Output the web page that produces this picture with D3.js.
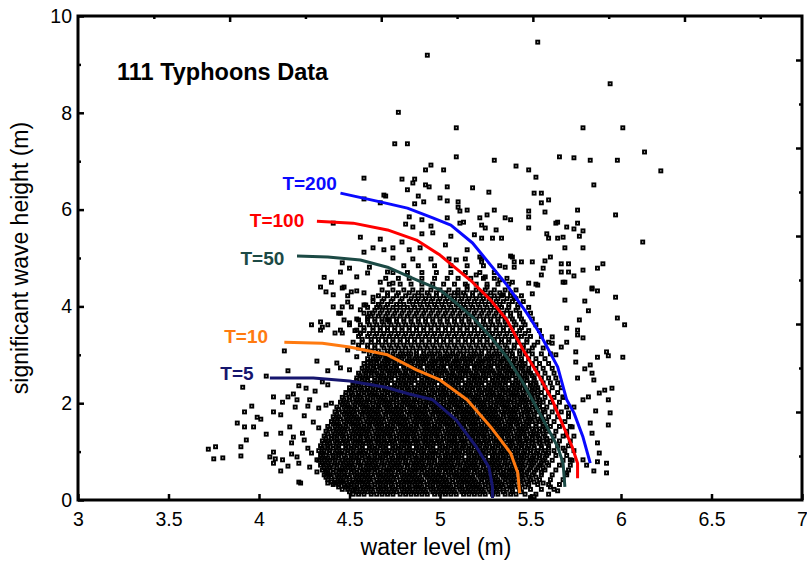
<!DOCTYPE html>
<html>
<head>
<meta charset="utf-8">
<script src="https://cdn.jsdelivr.net/npm/d3@7"></script>
<style>
body { margin:0; background:#fff; }
text { font-family: "Liberation Sans", Arial, sans-serif; fill:#000; }
</style>
</head>
<body>
<script>
const width = 807, height = 562
const margin = {left:78, right:5, top:16, bottom:62}

const xTicks = [3,3.5,4,4.5,5,5.5,6,6.5,7]
const yTicks = [0,2,4,6,8,10]
const yMinor = [1,3,5,7,9]

// scattered points read one by one (x = water level, y = wave height)
const sparsePts = [
[4.93,9.19],[5.54,9.46],[5.94,8.60],[4.77,8.01],[5.09,7.69],[5.79,7.69],[6.01,7.69],[6.13,7.19],[6.22,6.80],[6.12,5.33],[5.97,5.89],
[5.66,7.09],[5.74,7.07],[5.83,7.02],[5.98,7.02],[5.42,6.90],[5.49,6.82],[5.53,6.67],[5.85,6.51],[5.52,6.34],[5.56,6.34],[5.60,6.20],[5.56,6.14],[5.49,5.97],[5.58,5.95],[5.76,5.99],[5.49,5.85],[5.36,5.83],[5.39,5.79],[5.64,5.72],[5.65,5.74],[5.76,5.72],[5.70,5.64],[5.74,5.60],[5.79,5.56],[5.49,5.62],[5.77,5.45],[5.59,5.50],[5.60,5.41],[5.65,5.41],[5.68,5.43],[5.34,5.41],[5.69,5.21],[5.79,5.21],[5.39,5.04],[5.41,4.92],[5.45,4.92],[5.51,4.92],[5.61,5.02],[5.58,4.94],[5.67,4.88],[5.71,4.88],[5.67,4.71],[5.71,4.71],[5.74,4.63],[5.79,4.75],[5.87,4.79],[5.90,4.88],[5.57,4.79],[5.56,4.65],[5.53,4.46],[5.49,4.48],[5.51,4.26],[5.69,4.50],[5.84,4.36],[5.87,4.32],[5.97,4.19],[5.80,4.11],[5.69,4.13],
[4.75,7.36],[4.82,7.36],[5.09,7.09],[5.30,7.02],[4.95,6.92],[5.02,6.82],[4.92,6.82],[4.58,6.65],[4.79,6.63],[4.86,6.63],[4.85,6.55],[4.92,6.51],[4.94,6.47],[5.04,6.47],[5.18,6.45],[4.82,6.41],[5.27,6.36],[4.88,6.28],[4.70,6.28],[5.00,6.24],[4.58,6.22],[4.86,6.12],[4.91,6.16],[5.04,6.18],[5.10,6.16],[4.67,6.14],[5.10,6.05],[5.11,5.97],[5.15,5.99],[5.30,5.99],[4.83,5.85],[4.90,5.79],[5.04,5.83],[5.22,5.83],[5.26,5.89],[4.81,5.70],[4.85,5.64],[4.95,5.66],[5.11,5.72],[5.13,5.74],[5.23,5.68],[5.25,5.62],[5.31,5.58],[4.56,5.43],[4.67,5.39],[4.79,5.33],[4.90,5.50],[4.96,5.52],[5.06,5.45],[5.19,5.48],[5.23,5.41],[5.29,5.41],[5.03,5.27],[4.58,5.12],[4.63,5.21],[4.69,5.17],[4.74,5.21],[4.83,5.17],[4.89,5.21],[5.15,5.17],[5.22,5.02],[5.40,5.02],[5.41,4.81],[5.36,4.81],[5.23,4.92],[5.09,4.96],[4.74,5.00],[4.61,4.81],[4.50,4.79],[4.45,4.71],[5.20,4.65],[5.25,4.61],[5.33,4.55],[5.40,4.50],[5.26,4.40],[5.15,4.42],[5.10,4.28],[5.35,4.24],[5.41,4.19],[4.46,4.38],[4.51,4.30],[4.41,4.24],[4.58,4.28],[4.59,4.03],[4.41,5.72],[4.69,6.30],[4.46,4.90],[4.36,4.60],[4.40,4.50],
[4.34,4.40],[4.37,4.30],[4.47,4.40],[4.49,4.22],[4.54,4.32],[4.41,3.99],[4.46,3.99],[4.44,3.86],[4.34,3.68],[4.38,3.62],[4.45,3.51],[4.50,3.66],[4.54,3.51],[4.60,3.78],[4.56,3.93],[4.49,4.09],[4.63,4.19],[4.54,4.61],[4.60,4.69],[4.67,4.50],[4.71,4.71],[4.74,4.48],
[3.91,2.33],[4.14,3.08],[4.16,2.67],[4.04,2.56],[4.29,3.62],[4.34,3.51],[4.35,3.57],[4.42,3.45],[4.32,2.87],[4.43,2.83],[4.38,2.67],[4.38,2.38],[4.35,2.44],[4.22,2.36],[4.26,2.31],[4.31,2.25],[4.08,2.13],[4.16,2.13],[4.13,2.02],[4.19,2.19],[4.20,1.92],[4.21,2.07],[4.27,1.94],[4.28,2.07],[4.33,1.90],[4.37,1.96],[4.40,2.00],[3.96,1.94],[3.92,1.82],[4.08,1.82],[4.12,1.76],[4.01,1.67],[3.99,1.71],[3.88,1.59],[3.92,1.51],[3.97,1.51],[4.04,1.36],[4.12,1.38],[4.17,1.51],[4.19,1.30],[4.18,1.18],[3.93,1.24],[3.90,1.10],[3.72,1.05],[3.76,1.10],[3.75,0.85],[3.80,0.87],[3.90,0.91],[4.06,0.89],[4.08,0.99],[4.09,0.85],[4.12,0.60],[4.13,0.83],[4.16,0.70],[4.18,0.95],[4.22,0.76],[4.22,0.37],[4.23,0.35],[4.32,0.58],[4.38,0.56],[4.38,0.35],[4.42,0.35],[4.45,0.37],[4.49,0.31],[4.52,0.21],[4.24,1.38],[4.27,1.07],[4.25,1.24],[4.30,1.61],[4.25,1.74],[4.33,1.49],[4.29,0.97],[4.32,0.83],[4.28,0.68],[4.21,0.89],[4.08,0.76],
[4.51,3.99],[4.58,4.03],[4.45,3.86],[4.47,3.72],[4.50,3.62],[4.55,3.72],[4.61,3.86],[4.67,3.99],[4.71,3.72],[4.56,3.45],[4.46,3.45],[4.49,3.10],[4.54,2.96],[4.60,2.83],[4.65,2.75],[4.71,2.93],[4.45,2.73],[4.50,2.69],
[5.54,4.44],[5.68,4.50],[5.84,4.38],[5.82,3.91],[5.98,3.76],[6.02,3.62],[5.77,3.72],[5.70,3.55],[5.76,3.51],[5.76,3.41],[5.79,3.35],[5.62,3.37],[5.62,3.24],[5.75,3.06],[5.92,3.06],[5.93,2.98],[6.01,2.95],[5.87,2.95],[5.75,2.85],[5.80,2.71],[5.83,2.79],[5.84,2.62],[5.85,2.48],[5.76,2.52],[5.95,2.31],[5.88,2.21],[5.91,2.27],[5.93,2.07],[5.82,2.13],[5.79,2.07],[5.86,1.84],[5.94,1.80],[5.83,1.59],[5.84,1.38],[5.93,1.55],[5.87,1.18],[5.88,0.97],[5.92,0.76],[5.87,0.79],[5.85,0.60],[5.92,0.56],[5.81,0.72],[5.79,0.83],[5.72,0.83],[5.70,0.56],[5.65,0.19],[5.61,0.27],[5.57,0.35],[5.68,1.07],[5.70,1.34],[5.73,1.51],[5.71,1.80],[5.74,1.92],[5.68,2.13],[5.64,3.00],[5.67,3.16],[5.70,3.26],[5.52,0.07],[5.50,0.05]
]

// the crowded middle of the cloud, read row by row: [wave height, water levels]
const coreRows = [
[0.12,[4.52,4.55,4.58,4.62,4.65,4.68,4.71,4.74,4.78,4.81,4.84,4.87,4.9,4.93,4.97,5,5.03,5.06,5.09,5.13,5.16,5.19,5.22,5.25,5.29,5.32,5.36,5.39,5.42,5.47,5.53,5.6]],
[0.22,[4.46,4.49,4.53,4.56,4.59,4.62,4.66,4.69,4.72,4.75,4.79,4.82,4.85,4.88,4.91,4.95,4.98,5.01,5.04,5.07,5.11,5.14,5.17,5.2,5.23,5.27,5.3,5.33,5.37,5.4,5.44,5.5,5.56,5.63]],
[0.32,[4.41,4.44,4.47,4.51,4.54,4.57,4.6,4.64,4.67,4.7,4.73,4.77,4.8,4.83,4.86,4.89,4.93,4.96,4.99,5.02,5.05,5.09,5.12,5.15,5.18,5.21,5.25,5.28,5.31,5.34,5.38,5.41,5.45,5.49,5.54,5.6,5.66]],
[0.42,[4.38,4.42,4.45,4.48,4.52,4.55,4.58,4.61,4.65,4.68,4.71,4.74,4.78,4.81,4.84,4.87,4.9,4.94,4.97,5,5.03,5.07,5.1,5.13,5.16,5.19,5.23,5.26,5.29,5.32,5.36,5.39,5.42,5.46,5.5,5.55,5.61,5.68]],
[0.52,[4.36,4.39,4.43,4.46,4.49,4.53,4.56,4.59,4.62,4.66,4.69,4.72,4.75,4.79,4.82,4.85,4.88,4.92,4.95,4.98,5.01,5.05,5.08,5.11,5.14,5.17,5.21,5.24,5.27,5.3,5.34,5.37,5.4,5.44,5.47,5.51,5.56,5.62,5.7]],
[0.62,[4.35,4.38,4.41,4.45,4.48,4.51,4.54,4.58,4.61,4.64,4.67,4.71,4.74,4.77,4.8,4.84,4.87,4.9,4.93,4.96,5,5.03,5.06,5.09,5.13,5.16,5.19,5.22,5.26,5.29,5.32,5.35,5.39,5.42,5.45,5.49,5.53,5.58,5.64,5.71]],
[0.72,[4.34,4.37,4.4,4.43,4.47,4.5,4.53,4.56,4.6,4.63,4.66,4.69,4.73,4.76,4.79,4.82,4.86,4.89,4.92,4.95,4.99,5.02,5.05,5.08,5.11,5.15,5.18,5.21,5.24,5.28,5.31,5.34,5.37,5.41,5.44,5.47,5.51,5.55,5.6,5.66,5.72]],
[0.82,[4.33,4.36,4.39,4.42,4.46,4.49,4.52,4.55,4.59,4.62,4.65,4.68,4.72,4.75,4.78,4.81,4.85,4.88,4.91,4.94,4.97,5.01,5.04,5.07,5.1,5.14,5.17,5.2,5.23,5.27,5.3,5.33,5.36,5.4,5.43,5.46,5.5,5.53,5.57,5.62,5.68,5.73]],
[0.92,[4.34,4.37,4.41,4.44,4.47,4.51,4.54,4.57,4.6,4.64,4.67,4.7,4.73,4.77,4.8,4.83,4.86,4.9,4.93,4.96,4.99,5.03,5.06,5.09,5.12,5.16,5.19,5.22,5.25,5.29,5.32,5.35,5.38,5.42,5.45,5.48,5.52,5.55,5.59,5.64,5.7]],
[1.02,[4.33,4.36,4.39,4.43,4.46,4.49,4.52,4.56,4.59,4.62,4.65,4.69,4.72,4.75,4.78,4.82,4.85,4.88,4.91,4.95,4.98,5.01,5.04,5.08,5.11,5.14,5.17,5.21,5.24,5.27,5.3,5.34,5.37,5.4,5.43,5.47,5.5,5.54,5.58,5.63,5.69,5.74]],
[1.12,[4.34,4.38,4.41,4.44,4.48,4.51,4.54,4.57,4.61,4.64,4.67,4.7,4.74,4.77,4.8,4.83,4.87,4.9,4.93,4.96,5,5.03,5.06,5.09,5.13,5.16,5.19,5.22,5.26,5.29,5.32,5.35,5.39,5.42,5.45,5.49,5.52,5.56,5.6,5.65,5.71]],
[1.22,[4.35,4.38,4.42,4.45,4.48,4.52,4.55,4.58,4.61,4.65,4.68,4.71,4.74,4.78,4.81,4.84,4.87,4.91,4.94,4.97,5,5.04,5.07,5.1,5.13,5.17,5.2,5.23,5.26,5.3,5.33,5.36,5.39,5.43,5.46,5.49,5.53,5.57,5.61,5.66,5.72]],
[1.32,[4.36,4.4,4.43,4.46,4.5,4.53,4.56,4.59,4.63,4.66,4.69,4.72,4.76,4.79,4.82,4.85,4.89,4.92,4.95,4.98,5.02,5.05,5.08,5.11,5.15,5.18,5.21,5.24,5.28,5.31,5.34,5.37,5.41,5.44,5.47,5.51,5.54,5.58,5.63,5.68,5.74]],
[1.42,[4.37,4.41,4.44,4.47,4.51,4.54,4.57,4.6,4.64,4.67,4.7,4.73,4.77,4.8,4.83,4.86,4.9,4.93,4.96,4.99,5.03,5.06,5.09,5.12,5.16,5.19,5.22,5.25,5.29,5.32,5.35,5.38,5.42,5.45,5.48,5.52,5.55,5.59,5.64,5.7]],
[1.52,[4.38,4.42,4.45,4.48,4.52,4.55,4.58,4.61,4.65,4.68,4.71,4.74,4.78,4.81,4.84,4.87,4.91,4.94,4.97,5,5.04,5.07,5.1,5.13,5.17,5.2,5.23,5.26,5.3,5.33,5.36,5.39,5.43,5.46,5.49,5.53,5.57,5.61,5.66,5.72]],
[1.62,[4.4,4.43,4.47,4.5,4.53,4.56,4.6,4.63,4.66,4.69,4.73,4.76,4.79,4.82,4.86,4.89,4.92,4.95,4.99,5.02,5.05,5.08,5.12,5.15,5.18,5.21,5.25,5.28,5.31,5.34,5.38,5.41,5.44,5.48,5.51,5.55,5.59,5.63,5.69]],
[1.72,[4.41,4.44,4.48,4.51,4.54,4.57,4.61,4.64,4.67,4.7,4.74,4.77,4.8,4.83,4.87,4.9,4.93,4.96,5,5.03,5.06,5.09,5.13,5.16,5.19,5.22,5.26,5.29,5.32,5.35,5.39,5.42,5.45,5.49,5.52,5.56,5.6,5.65,5.71]],
[1.82,[4.42,4.46,4.49,4.52,4.56,4.59,4.62,4.65,4.69,4.72,4.75,4.78,4.82,4.85,4.88,4.91,4.95,4.98,5.01,5.04,5.08,5.11,5.14,5.17,5.21,5.24,5.27,5.3,5.34,5.37,5.4,5.43,5.47,5.5,5.54,5.58,5.62,5.67]],
[1.92,[4.43,4.47,4.5,4.53,4.57,4.6,4.63,4.66,4.7,4.73,4.76,4.79,4.83,4.86,4.89,4.92,4.96,4.99,5.02,5.05,5.09,5.12,5.15,5.18,5.22,5.25,5.28,5.31,5.35,5.38,5.41,5.44,5.48,5.51,5.55,5.59,5.64,5.7]],
[2.02,[4.45,4.48,4.52,4.55,4.58,4.61,4.65,4.68,4.71,4.74,4.78,4.81,4.84,4.87,4.91,4.94,4.97,5,5.04,5.07,5.1,5.13,5.17,5.2,5.23,5.26,5.3,5.33,5.36,5.39,5.43,5.46,5.49,5.53,5.57,5.61,5.66]],
[2.12,[4.46,4.5,4.53,4.56,4.6,4.63,4.66,4.69,4.73,4.76,4.79,4.82,4.86,4.89,4.92,4.95,4.99,5.02,5.05,5.08,5.12,5.15,5.18,5.21,5.25,5.28,5.31,5.34,5.38,5.41,5.44,5.47,5.51,5.54,5.58,5.63,5.68]],
[2.22,[4.48,4.51,4.55,4.58,4.61,4.64,4.68,4.71,4.74,4.77,4.81,4.84,4.87,4.9,4.94,4.97,5,5.03,5.07,5.1,5.13,5.16,5.2,5.23,5.26,5.29,5.33,5.36,5.39,5.42,5.46,5.49,5.52,5.56,5.6,5.65]],
[2.32,[4.5,4.53,4.56,4.6,4.63,4.66,4.69,4.73,4.76,4.79,4.82,4.86,4.89,4.92,4.95,4.99,5.02,5.05,5.08,5.12,5.15,5.18,5.21,5.25,5.28,5.31,5.34,5.38,5.41,5.44,5.47,5.51,5.54,5.58,5.62,5.67]],
[2.42,[4.52,4.55,4.58,4.62,4.65,4.68,4.71,4.75,4.78,4.81,4.84,4.88,4.91,4.94,4.97,5.01,5.04,5.07,5.1,5.14,5.17,5.2,5.23,5.27,5.3,5.33,5.36,5.4,5.43,5.46,5.5,5.53,5.57,5.61,5.65]],
[2.52,[4.54,4.57,4.6,4.64,4.67,4.7,4.73,4.77,4.8,4.83,4.86,4.9,4.93,4.96,4.99,5.03,5.06,5.09,5.12,5.16,5.19,5.22,5.25,5.29,5.32,5.35,5.38,5.42,5.45,5.48,5.52,5.56,5.6,5.64]],
[2.62,[4.55,4.59,4.62,4.65,4.68,4.72,4.75,4.78,4.81,4.85,4.88,4.91,4.94,4.98,5.01,5.04,5.07,5.11,5.14,5.17,5.2,5.24,5.27,5.3,5.33,5.37,5.4,5.43,5.47,5.5,5.54,5.58,5.63]],
[2.72,[4.57,4.6,4.63,4.67,4.7,4.73,4.76,4.8,4.83,4.86,4.89,4.93,4.96,4.99,5.02,5.06,5.09,5.12,5.15,5.19,5.22,5.25,5.28,5.32,5.35,5.38,5.42,5.45,5.49,5.53,5.57,5.62]],
[2.82,[4.58,4.62,4.65,4.68,4.71,4.75,4.78,4.81,4.84,4.88,4.91,4.94,4.97,5.01,5.04,5.07,5.1,5.14,5.17,5.2,5.23,5.27,5.3,5.33,5.37,5.4,5.44,5.47,5.51,5.55,5.6]],
[2.92,[4.6,4.63,4.66,4.7,4.73,4.76,4.79,4.83,4.86,4.89,4.92,4.96,4.99,5.02,5.05,5.09,5.12,5.15,5.18,5.22,5.25,5.28,5.32,5.35,5.38,5.42,5.45,5.49,5.53,5.58]],
[3.02,[4.61,4.65,4.68,4.71,4.74,4.78,4.81,4.84,4.87,4.91,4.94,4.97,5,5.04,5.07,5.1,5.13,5.17,5.2,5.23,5.27,5.3,5.33,5.37,5.4,5.44,5.47,5.51,5.56,5.61]],
[3.14,[4.55,4.6,4.64,4.69,4.73,4.77,4.81,4.85,4.89,4.93,4.97,5.01,5.05,5.09,5.13,5.17,5.21,5.25,5.29,5.33,5.37,5.41,5.46,5.51,5.57]],
[3.26,[4.52,4.57,4.62,4.66,4.7,4.74,4.78,4.82,4.86,4.9,4.94,4.98,5.02,5.06,5.1,5.14,5.18,5.22,5.26,5.3,5.34,5.38,5.43,5.48,5.54,5.6]],
[3.38,[4.55,4.6,4.64,4.68,4.72,4.76,4.8,4.84,4.88,4.92,4.96,5,5.04,5.08,5.12,5.16,5.2,5.24,5.28,5.32,5.36,5.4,5.45,5.5,5.56]],
[3.5,[4.53,4.58,4.63,4.67,4.71,4.75,4.79,4.83,4.87,4.91,4.95,4.99,5.03,5.07,5.11,5.15,5.19,5.23,5.27,5.31,5.35,5.39,5.44,5.49,5.55]],
[3.62,[4.56,4.61,4.65,4.69,4.73,4.77,4.81,4.85,4.89,4.93,4.97,5.01,5.05,5.09,5.13,5.17,5.21,5.25,5.29,5.33,5.37,5.42,5.47,5.53]],
[3.74,[4.54,4.6,4.64,4.68,4.72,4.76,4.8,4.84,4.88,4.92,4.96,5,5.04,5.08,5.12,5.16,5.2,5.24,5.28,5.32,5.36,5.4,5.45,5.51]],
[3.86,[4.58,4.63,4.67,4.71,4.75,4.79,4.83,4.87,4.91,4.95,4.99,5.03,5.07,5.11,5.15,5.19,5.23,5.27,5.31,5.35,5.39,5.44,5.5]],
[3.98,[4.6,4.65,4.7,4.74,4.78,4.82,4.86,4.9,4.94,4.98,5.02,5.06,5.1,5.14,5.18,5.22,5.26,5.3,5.34,5.38,5.43,5.49]],
[4.1,[4.63,4.68,4.73,4.78,4.83,4.87,4.91,4.95,4.99,5.03,5.07,5.11,5.15,5.19,5.23,5.27,5.31,5.35,5.4,5.46]],
[4.22,[4.66,4.71,4.76,4.81,4.86,4.9,4.94,4.98,5.02,5.06,5.1,5.14,5.18,5.22,5.26,5.3,5.34,5.39,5.45]],
[4.34,[4.68,4.74,4.8,4.85,4.9,4.95,5,5.05,5.1,5.15,5.2,5.25,5.3,5.36,5.42]],
[4.46,[4.72,4.78,4.84,4.9,4.96,5.02,5.08,5.14,5.2,5.26,5.32,5.38]],
[4.58,[4.7,4.77,4.83,4.9,4.97,5.04,5.1,5.17,5.24,5.3,5.37]],
[4.7,[4.74,4.82,4.9,4.98,5.06,5.14,5.22,5.3]],
[4.84,[4.8,4.88,4.97,5.06,5.15,5.24,5.33]],
[4.98,[4.85,4.95,5.05,5.14,5.23]]
]

// second pass over the darkest part of the cloud, between the rows above
const coreRowsB = [
[0.17,[4.5,4.54,4.57,4.6,4.63,4.67,4.7,4.73,4.76,4.8,4.83,4.86,4.89,4.92,4.96,4.99,5.02,5.05,5.08,5.12,5.15,5.18,5.21,5.24,5.28,5.31,5.35,5.4,5.45]],
[0.27,[4.44,4.48,4.51,4.54,4.58,4.61,4.64,4.67,4.7,4.74,4.77,4.8,4.83,4.87,4.9,4.93,4.96,5,5.03,5.06,5.09,5.12,5.16,5.19,5.22,5.25,5.29,5.32,5.35,5.39,5.43,5.47]],
[0.37,[4.4,4.43,4.46,4.5,4.53,4.56,4.59,4.62,4.66,4.69,4.72,4.75,4.79,4.82,4.85,4.88,4.91,4.95,4.98,5.01,5.04,5.07,5.11,5.14,5.17,5.2,5.23,5.27,5.3,5.33,5.36,5.4,5.44,5.48,5.52]],
[0.47,[4.37,4.4,4.44,4.47,4.5,4.54,4.57,4.6,4.63,4.67,4.7,4.73,4.76,4.8,4.83,4.86,4.89,4.93,4.96,4.99,5.02,5.05,5.09,5.12,5.15,5.18,5.22,5.25,5.28,5.31,5.35,5.38,5.41,5.45,5.49,5.53]],
[0.57,[4.37,4.41,4.44,4.47,4.51,4.54,4.57,4.6,4.64,4.67,4.7,4.73,4.77,4.8,4.83,4.86,4.9,4.93,4.96,4.99,5.03,5.06,5.09,5.12,5.15,5.19,5.22,5.25,5.28,5.32,5.35,5.38,5.41,5.45,5.48,5.52,5.56]],
[0.67,[4.36,4.39,4.43,4.46,4.49,4.52,4.56,4.59,4.62,4.65,4.69,4.72,4.75,4.78,4.82,4.85,4.88,4.91,4.95,4.98,5.01,5.04,5.07,5.11,5.14,5.17,5.2,5.24,5.27,5.3,5.33,5.37,5.4,5.43,5.46,5.5,5.54,5.57]],
[0.77,[4.35,4.38,4.42,4.45,4.48,4.51,4.55,4.58,4.61,4.64,4.68,4.71,4.74,4.77,4.81,4.84,4.87,4.9,4.94,4.97,5,5.03,5.06,5.1,5.13,5.16,5.19,5.23,5.26,5.29,5.32,5.36,5.39,5.42,5.45,5.49,5.52,5.56,5.59]],
[0.87,[4.35,4.38,4.41,4.44,4.48,4.51,4.54,4.57,4.61,4.64,4.67,4.7,4.74,4.77,4.8,4.83,4.87,4.9,4.93,4.96,5,5.03,5.06,5.09,5.12,5.16,5.19,5.22,5.25,5.29,5.32,5.35,5.38,5.42,5.45,5.48,5.51,5.55,5.58]],
[0.97,[4.35,4.39,4.42,4.45,4.49,4.52,4.55,4.58,4.62,4.65,4.68,4.71,4.75,4.78,4.81,4.84,4.88,4.91,4.94,4.97,5.01,5.04,5.07,5.1,5.14,5.17,5.2,5.23,5.27,5.3,5.33,5.36,5.4,5.43,5.46,5.5,5.53,5.57,5.6]],
[1.07,[4.35,4.38,4.41,4.44,4.48,4.51,4.54,4.57,4.61,4.64,4.67,4.7,4.74,4.77,4.8,4.83,4.87,4.9,4.93,4.96,5,5.03,5.06,5.09,5.12,5.16,5.19,5.22,5.25,5.29,5.32,5.35,5.38,5.42,5.45,5.48,5.52,5.56,5.6]],
[1.17,[4.36,4.39,4.43,4.46,4.49,4.53,4.56,4.59,4.62,4.66,4.69,4.72,4.75,4.79,4.82,4.85,4.88,4.92,4.95,4.98,5.01,5.05,5.08,5.11,5.14,5.18,5.21,5.24,5.27,5.31,5.34,5.37,5.4,5.44,5.47,5.51,5.55,5.59]],
[1.27,[4.37,4.4,4.43,4.47,4.5,4.53,4.56,4.6,4.63,4.66,4.69,4.73,4.76,4.79,4.82,4.86,4.89,4.92,4.95,4.99,5.02,5.05,5.08,5.12,5.15,5.18,5.21,5.25,5.28,5.31,5.34,5.38,5.41,5.44,5.48,5.51,5.55,5.59]],
[1.37,[4.38,4.42,4.45,4.48,4.52,4.55,4.58,4.61,4.65,4.68,4.71,4.74,4.78,4.81,4.84,4.87,4.91,4.94,4.97,5,5.04,5.07,5.1,5.13,5.17,5.2,5.23,5.26,5.3,5.33,5.36,5.39,5.43,5.46,5.5,5.53,5.57]],
[1.47,[4.39,4.43,4.46,4.49,4.53,4.56,4.59,4.62,4.66,4.69,4.72,4.75,4.79,4.82,4.85,4.88,4.92,4.95,4.98,5.01,5.05,5.08,5.11,5.14,5.18,5.21,5.24,5.27,5.31,5.34,5.37,5.4,5.44,5.47,5.51,5.55,5.58]],
[1.57,[4.41,4.44,4.48,4.51,4.54,4.58,4.61,4.64,4.67,4.71,4.74,4.77,4.8,4.84,4.87,4.9,4.93,4.97,5,5.03,5.06,5.1,5.13,5.16,5.19,5.23,5.26,5.29,5.32,5.36,5.39,5.42,5.46,5.49,5.53,5.57]],
[1.67,[4.42,4.45,4.49,4.52,4.55,4.59,4.62,4.65,4.68,4.72,4.75,4.78,4.81,4.85,4.88,4.91,4.94,4.98,5.01,5.04,5.07,5.11,5.14,5.17,5.2,5.24,5.27,5.3,5.33,5.37,5.4,5.43,5.47,5.5,5.54,5.57]],
[1.77,[4.43,4.47,4.5,4.53,4.57,4.6,4.63,4.66,4.7,4.73,4.76,4.79,4.83,4.86,4.89,4.92,4.96,4.99,5.02,5.05,5.09,5.12,5.15,5.18,5.22,5.25,5.28,5.31,5.35,5.38,5.41,5.45,5.48,5.52,5.56]],
[1.87,[4.44,4.48,4.51,4.54,4.58,4.61,4.64,4.67,4.71,4.74,4.77,4.8,4.84,4.87,4.9,4.93,4.97,5,5.03,5.06,5.1,5.13,5.16,5.19,5.23,5.26,5.29,5.32,5.36,5.39,5.42,5.46,5.49,5.53,5.57]],
[1.97,[4.46,4.49,4.53,4.56,4.59,4.63,4.66,4.69,4.72,4.76,4.79,4.82,4.85,4.89,4.92,4.95,4.98,5.02,5.05,5.08,5.11,5.15,5.18,5.21,5.24,5.28,5.31,5.34,5.37,5.41,5.44,5.47,5.51,5.55]],
[2.07,[4.47,4.5,4.54,4.57,4.6,4.63,4.67,4.7,4.73,4.76,4.8,4.83,4.86,4.89,4.93,4.96,4.99,5.02,5.06,5.09,5.12,5.15,5.19,5.22,5.25,5.28,5.32,5.35,5.38,5.41,5.45,5.48,5.51,5.55]],
[2.17,[4.48,4.52,4.55,4.58,4.62,4.65,4.68,4.71,4.75,4.78,4.81,4.84,4.88,4.91,4.94,4.97,5.01,5.04,5.07,5.1,5.14,5.17,5.2,5.23,5.27,5.3,5.33,5.36,5.4,5.43,5.46,5.5,5.54]],
[2.27,[4.5,4.53,4.57,4.6,4.63,4.66,4.7,4.73,4.76,4.79,4.83,4.86,4.89,4.92,4.96,4.99,5.02,5.05,5.09,5.12,5.15,5.18,5.22,5.25,5.28,5.31,5.35,5.38,5.41,5.44,5.48,5.51,5.54]],
[2.37,[4.52,4.55,4.58,4.62,4.65,4.68,4.71,4.75,4.78,4.81,4.84,4.88,4.91,4.94,4.97,5.01,5.04,5.07,5.1,5.14,5.17,5.2,5.23,5.27,5.3,5.33,5.36,5.4,5.43,5.46,5.5,5.53]],
[2.47,[4.54,4.57,4.6,4.64,4.67,4.7,4.73,4.77,4.8,4.83,4.86,4.9,4.93,4.96,4.99,5.03,5.06,5.09,5.12,5.16,5.19,5.22,5.25,5.29,5.32,5.35,5.38,5.42,5.45,5.48,5.52]],
[2.57,[4.56,4.59,4.62,4.66,4.69,4.72,4.75,4.79,4.82,4.85,4.88,4.92,4.95,4.98,5.01,5.05,5.08,5.11,5.14,5.18,5.21,5.24,5.27,5.31,5.34,5.37,5.4,5.44,5.47,5.51]],
[2.67,[4.58,4.61,4.64,4.68,4.71,4.74,4.77,4.81,4.84,4.87,4.9,4.94,4.97,5,5.03,5.07,5.1,5.13,5.16,5.2,5.23,5.26,5.29,5.33,5.36,5.39,5.42,5.46,5.49]],
[2.77,[4.6,4.63,4.67,4.7,4.73,4.76,4.8,4.83,4.86,4.89,4.93,4.96,4.99,5.02,5.06,5.09,5.12,5.15,5.19,5.22,5.25,5.28,5.32,5.35,5.38,5.42,5.46]],
[2.87,[4.62,4.65,4.69,4.72,4.75,4.78,4.82,4.85,4.88,4.91,4.95,4.98,5.01,5.04,5.08,5.11,5.14,5.17,5.21,5.24,5.27,5.3,5.34,5.37,5.41,5.45]],
[2.97,[4.64,4.67,4.7,4.74,4.77,4.8,4.83,4.87,4.9,4.93,4.96,5,5.03,5.06,5.09,5.13,5.16,5.19,5.22,5.26,5.29,5.32,5.36,5.4]],
[3.08,[4.58,4.62,4.66,4.71,4.75,4.79,4.83,4.87,4.91,4.95,4.99,5.03,5.07,5.11,5.15,5.19,5.23,5.27,5.31,5.35,5.39,5.44,5.49]],
[3.2,[4.55,4.6,4.64,4.68,4.72,4.76,4.8,4.84,4.88,4.92,4.96,5,5.04,5.08,5.12,5.16,5.2,5.24,5.28,5.32,5.36,5.41,5.46,5.52]],
[3.32,[4.57,4.62,4.66,4.7,4.74,4.78,4.82,4.86,4.9,4.94,4.98,5.02,5.06,5.1,5.14,5.18,5.22,5.26,5.3,5.34,5.38,5.43,5.48]],
[3.44,[4.56,4.61,4.65,4.69,4.73,4.77,4.81,4.85,4.89,4.93,4.97,5.01,5.05,5.09,5.13,5.17,5.21,5.25,5.29,5.33,5.37,5.42,5.47]],
[3.56,[4.58,4.63,4.67,4.71,4.75,4.79,4.83,4.87,4.91,4.95,4.99,5.03,5.07,5.11,5.15,5.19,5.23,5.27,5.31,5.35,5.4,5.45]],
[3.68,[4.6,4.64,4.68,4.72,4.76,4.8,4.84,4.88,4.92,4.96,5,5.04,5.08,5.12,5.16,5.2,5.24,5.28,5.32,5.36,5.41,5.46]],
[3.8,[4.62,4.66,4.7,4.74,4.78,4.82,4.86,4.9,4.94,4.98,5.02,5.06,5.1,5.14,5.18,5.22,5.26,5.3,5.34,5.39,5.44]],
[3.92,[4.64,4.68,4.72,4.76,4.8,4.84,4.88,4.92,4.96,5,5.04,5.08,5.12,5.16,5.2,5.24,5.28,5.32,5.37,5.42]],
[4.04,[4.66,4.71,4.76,4.8,4.85,4.89,4.93,4.97,5.01,5.05,5.09,5.13,5.17,5.21,5.25,5.29,5.33,5.38,5.43]],
[4.16,[4.69,4.74,4.79,4.84,4.88,4.92,4.96,5,5.04,5.08,5.12,5.16,5.2,5.24,5.28,5.32,5.37,5.42]],
[4.28,[4.71,4.77,4.83,4.88,4.93,4.98,5.03,5.08,5.13,5.18,5.23,5.28,5.33,5.39]]
]

// joint return period contours
const curveNames = ["T=200","T=100","T=50","T=10","T=5"]
const curveT200 = [[4.45,6.34],[4.67,6.16],[4.82,6.03],[4.96,5.83],[5.06,5.68],[5.18,5.31],[5.37,4.44],[5.48,3.86],[5.55,3.45],[5.65,2.75],[5.70,2.07],[5.74,1.80],[5.79,1.30],[5.83,0.76]]
const curveT100 = [[4.32,5.76],[4.52,5.72],[4.71,5.58],[4.87,5.37],[5.00,5.06],[5.18,4.50],[5.28,4.13],[5.37,3.72],[5.46,3.10],[5.55,2.54],[5.62,2.07],[5.65,1.80],[5.73,1.10],[5.76,0.76],[5.76,0.45]]
const curveT50 = [[4.21,5.04],[4.38,5.02],[4.56,4.96],[4.71,4.81],[4.87,4.55],[5.00,4.34],[5.09,4.07],[5.18,3.78],[5.28,3.37],[5.37,2.95],[5.45,2.48],[5.55,1.80],[5.65,1.10],[5.68,0.76],[5.69,0.27]]
const curveT10 = [[4.14,3.26],[4.35,3.24],[4.50,3.16],[4.71,3.00],[4.87,2.69],[5.00,2.48],[5.15,2.07],[5.28,1.51],[5.39,0.97],[5.43,0.56],[5.44,0.14]]
const curveT5 = [[4.06,2.52],[4.30,2.52],[4.50,2.46],[4.70,2.33],[4.83,2.19],[4.96,2.07],[5.09,1.65],[5.20,1.10],[5.27,0.68],[5.29,0.27],[5.29,0.04]]
// where each contour's label ends (right edge, baseline), in data units
const labelAnchors = [[4.43,6.40],[4.25,5.64],[4.14,4.86],[4.05,3.24],[3.97,2.48]]
const curveColors = ["#0a0aff","#ff0000","#1c4a45","#ff7a10","#16166e"]

const svg = d3.select('body').append('svg')
  .attr('width', width)
  .attr('height', height)

const x = d3.scaleLinear().domain([3,7]).range([margin.left, width-margin.right])
const y = d3.scaleLinear().domain([0,10]).range([height-margin.bottom, margin.top])
// the frame's top and right ticks follow their own spacing in the original
const xTop = d3.scaleLinear().domain([0,4.775]).range([margin.left, width-margin.right])
const yRight = d3.scaleLinear().domain([0,11]).range([height-margin.bottom, margin.top])

svg.append("clipPath").attr("id","plotclip").append("rect")
  .attr("x", x(3)).attr("y", y(10))
  .attr("width", x(7)-x(3)).attr("height", y(0)-y(10))

const toPts = rows => rows.flatMap(([h,xs]) => xs.map(w => [w,h]))
const points = sparsePts.concat(toPts(coreRows), toPts(coreRowsB))

svg.append("g").attr("clip-path","url(#plotclip)")
  .selectAll("rect").data(points).enter().append("rect")
  .attr("x", d => x(d[0]) - 1.5)
  .attr("y", d => y(d[1]) - 1.5)
  .attr("width", 3)
  .attr("height", 3)
  .style("fill","none")
  .style("stroke","#000")
  .style("stroke-width",1.9)

const curves = [curveT200, curveT100, curveT50, curveT10, curveT5]
const line = d3.line().x(d => x(d[0])).y(d => y(d[1]))

svg.selectAll("path.curve").data(curves).enter().append("path")
  .attr("class","curve")
  .attr("d", line)
  .style("fill","none")
  .style("stroke",(d,i) => curveColors[i])
  .style("stroke-width",3)
  .style("stroke-linejoin","round")

svg.selectAll("text.clabel").data(curveNames).enter().append("text")
  .attr("class","clabel")
  .attr("x",(d,i) => x(labelAnchors[i][0]))
  .attr("y",(d,i) => y(labelAnchors[i][1]))
  .attr("text-anchor","end")
  .style("font-size","19px")
  .style("font-weight","bold")
  .style("fill",(d,i) => curveColors[i])
  .text(d => d)

// axes, ticks pointing inward
svg.append("g")
  .attr("transform",`translate(0,${y(0)})`)
  .call(d3.axisBottom(x).tickValues(xTicks).tickFormat(d => d).tickSize(-6).tickSizeOuter(0).tickPadding(12))

svg.append("g")
  .attr("transform",`translate(${x(3)},0)`)
  .call(d3.axisLeft(y).tickValues(yTicks).tickFormat(d => d).tickSize(-6).tickSizeOuter(0).tickPadding(6))

svg.append("g")
  .attr("transform",`translate(${x(3)},0)`)
  .call(d3.axisLeft(y).tickValues(yMinor).tickFormat("").tickSize(-3).tickSizeOuter(0))

svg.append("g")
  .attr("transform",`translate(0,${y(10)})`)
  .call(d3.axisTop(xTop).tickValues([1,2,3,4]).tickFormat("").tickSize(-6).tickSizeOuter(0))
svg.append("g")
  .attr("transform",`translate(0,${y(10)})`)
  .call(d3.axisTop(xTop).tickValues([0.5,1.5,2.5,3.5,4.5]).tickFormat("").tickSize(-3).tickSizeOuter(0))

svg.append("g")
  .attr("transform",`translate(${x(7)},0)`)
  .call(d3.axisRight(yRight).tickValues([2,4,6,8,10]).tickFormat("").tickSize(-6).tickSizeOuter(0))
svg.append("g")
  .attr("transform",`translate(${x(7)},0)`)
  .call(d3.axisRight(yRight).tickValues([1,3,5,7,9]).tickFormat("").tickSize(-3).tickSizeOuter(0))

svg.selectAll(".domain").remove()
svg.selectAll(".tick line").style("stroke","#000").style("stroke-width",2.5)
svg.selectAll(".tick text").style("font-size","19.5px").style("font-family",'"Liberation Sans", Arial, sans-serif').style("fill","#000")

svg.append("rect")
  .attr("x", x(3)).attr("y", y(10))
  .attr("width", x(7)-x(3)).attr("height", y(0)-y(10))
  .style("fill","none")
  .style("stroke","#000")
  .style("stroke-width",3)

svg.append("text")
  .attr("x", (x(3)+x(7))/2 - 4)
  .attr("y", height-7)
  .attr("text-anchor","middle")
  .style("font-size","23px")
  .text("water level (m)")

svg.append("text")
  .attr("transform",`translate(28,${(y(0)+y(10))/2}) rotate(-90)`)
  .attr("text-anchor","middle")
  .style("font-size","23px")
  .text("significant wave height (m)")

svg.append("text")
  .attr("x", x(3)+39)
  .attr("y", y(10)+64)
  .style("font-size","23.5px")
  .style("font-weight","bold")
  .text("111 Typhoons Data")
</script>
</body>
</html>
